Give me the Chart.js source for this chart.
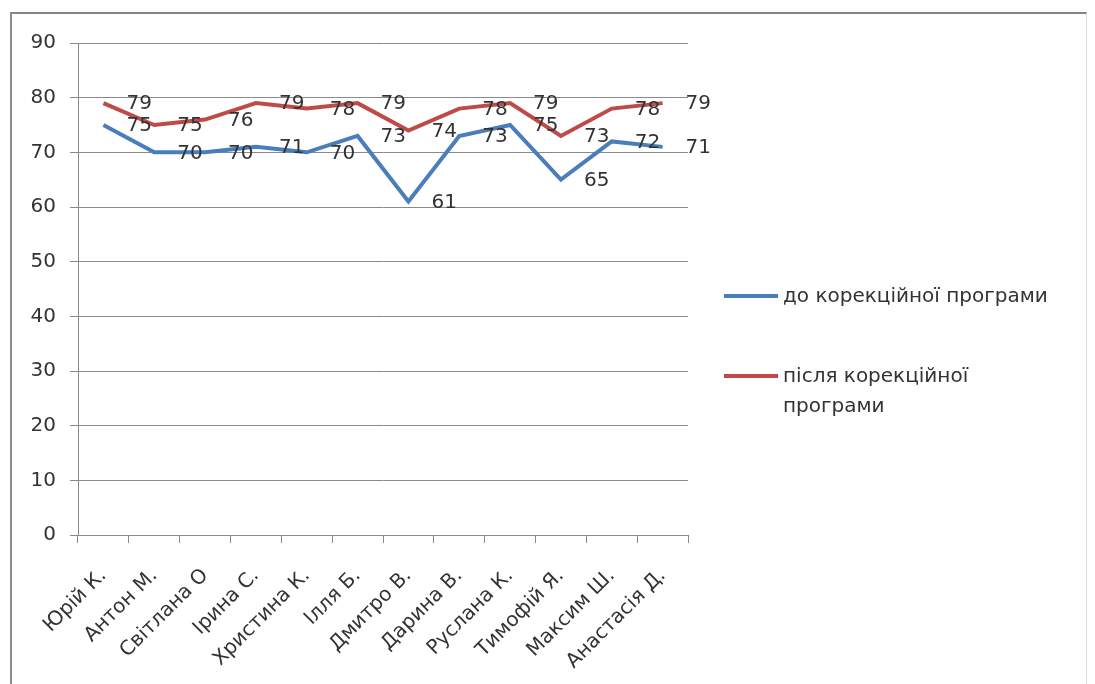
<!DOCTYPE html>
<html lang="uk">
<head>
<meta charset="utf-8">
<title>Результати до та після корекційної програми</title>
<script src="https://cdn.jsdelivr.net/npm/chart.js@4.4.1/dist/chart.umd.min.js"></script>
<style>
  html, body { margin: 0; padding: 0; background: #ffffff; }
  #wrap { position: relative; width: 1095px; height: 684px; overflow: hidden; background: #ffffff; }
  #frame {
    position: absolute; left: 10px; top: 12px; width: 1077px; height: 700px;
    border-top: 2px solid #858585; border-left: 2px solid #8c8c8c; border-right: 1px solid #dcdcdc;
    box-sizing: border-box;
  }
  #chart { position: absolute; left: 0; top: 0; }
  #legend {
    position: absolute; left: 724px; top: 280px; width: 340px;
    font-family: "DejaVu Sans", sans-serif; font-size: 20px; color: #333333;
  }
  .item { position: absolute; left: 0; display: flex; align-items: flex-start; }
  .swatch { width: 54px; height: 4px; margin-top: 14px; flex: 0 0 auto; }
  .text { margin-left: 5px; line-height: 30px; width: 276px; }
</style>
</head>
<body>
<div id="wrap">
  <div id="frame"></div>
  <canvas id="chart" width="1095" height="684"></canvas>
  <div id="legend"></div>
</div>
<script>
// Учні
const pupils = ['Юрій К.', 'Антон М.', 'Світлана О', 'Ірина С.', 'Христина К.', 'Ілля Б.',
                'Дмитро В.', 'Дарина В.', 'Руслана К.', 'Тимофій Я.', 'Максим Ш.', 'Анастасія Д.'];

// Бали до корекційної програми
const before = [75, 70, 70, 71, 70, 73, 61, 73, 75, 65, 72, 71];

// Бали після корекційної програми
const after = [79, 75, 76, 79, 78, 79, 74, 78, 79, 73, 78, 79];

const seriesNames = ['до корекційної програми', 'після корекційної програми'];
const seriesColors = ['#4a7ebb', '#be4b48'];

const yMin = 0, yMax = 90, yStep = 10;

const FONT = { family: '"DejaVu Sans", sans-serif', size: 20 };
const TEXT = '#333333';
const GRID = '#8a8a8a';

// Підписи значень праворуч від кожної точки
const valueLabels = {
  id: 'valueLabels',
  afterDatasetsDraw(chart) {
    const ctx = chart.ctx;
    ctx.save();
    ctx.font = `${FONT.size}px ${FONT.family}`;
    ctx.fillStyle = TEXT;
    ctx.textAlign = 'left';
    ctx.textBaseline = 'middle';
    chart.data.datasets.forEach((ds, i) => {
      const meta = chart.getDatasetMeta(i);
      meta.data.forEach((pt, j) => {
        ctx.fillText(String(ds.data[j]), pt.x + 23, pt.y + 1);
      });
    });
    ctx.restore();
  }
};

const chart = new Chart(document.getElementById('chart'), {
  type: 'line',
  data: {
    labels: pupils,
    datasets: [
      { label: seriesNames[0], data: before, borderColor: seriesColors[0], backgroundColor: seriesColors[0],
        borderWidth: 4, pointRadius: 0, tension: 0, fill: false },
      { label: seriesNames[1], data: after, borderColor: seriesColors[1], backgroundColor: seriesColors[1],
        borderWidth: 4, pointRadius: 0, tension: 0, fill: false }
    ]
  },
  options: {
    responsive: false,
    animation: false,
    devicePixelRatio: 1,
    layout: { padding: { top: 43, right: 407, left: 0, bottom: 0 } },
    plugins: { legend: { display: false }, tooltip: { enabled: false } },
    scales: {
      x: {
        type: 'category',
        offset: true,
        grid: { offset: true, drawOnChartArea: false, drawTicks: true, tickLength: 8, color: GRID, lineWidth: 1 },
        border: { display: true, color: GRID, width: 1 },
        ticks: { autoSkip: false, maxRotation: 45, minRotation: 45, labelOffset: 0, padding: 21, font: FONT, color: TEXT },
        afterFit(scale) { scale.height = 149; }
      },
      y: {
        min: yMin, max: yMax,
        grid: { color: GRID, lineWidth: 1, tickLength: 8, drawTicks: true },
        border: { display: true, color: GRID, width: 1 },
        ticks: { stepSize: yStep, padding: 14, font: FONT, color: TEXT },
        afterFit(scale) { scale.width = 78; }
      }
    }
  },
  plugins: [valueLabels]
});

// Легенда
const legend = document.getElementById('legend');
const legendTops = [0, 80];
chart.data.datasets.forEach((ds, i) => {
  const item = document.createElement('div');
  item.className = 'item';
  item.style.top = legendTops[i] + 'px';
  const sw = document.createElement('div');
  sw.className = 'swatch';
  sw.style.background = ds.borderColor;
  const tx = document.createElement('div');
  tx.className = 'text';
  tx.textContent = ds.label;
  item.appendChild(sw);
  item.appendChild(tx);
  legend.appendChild(item);
});
</script>
</body>
</html>
